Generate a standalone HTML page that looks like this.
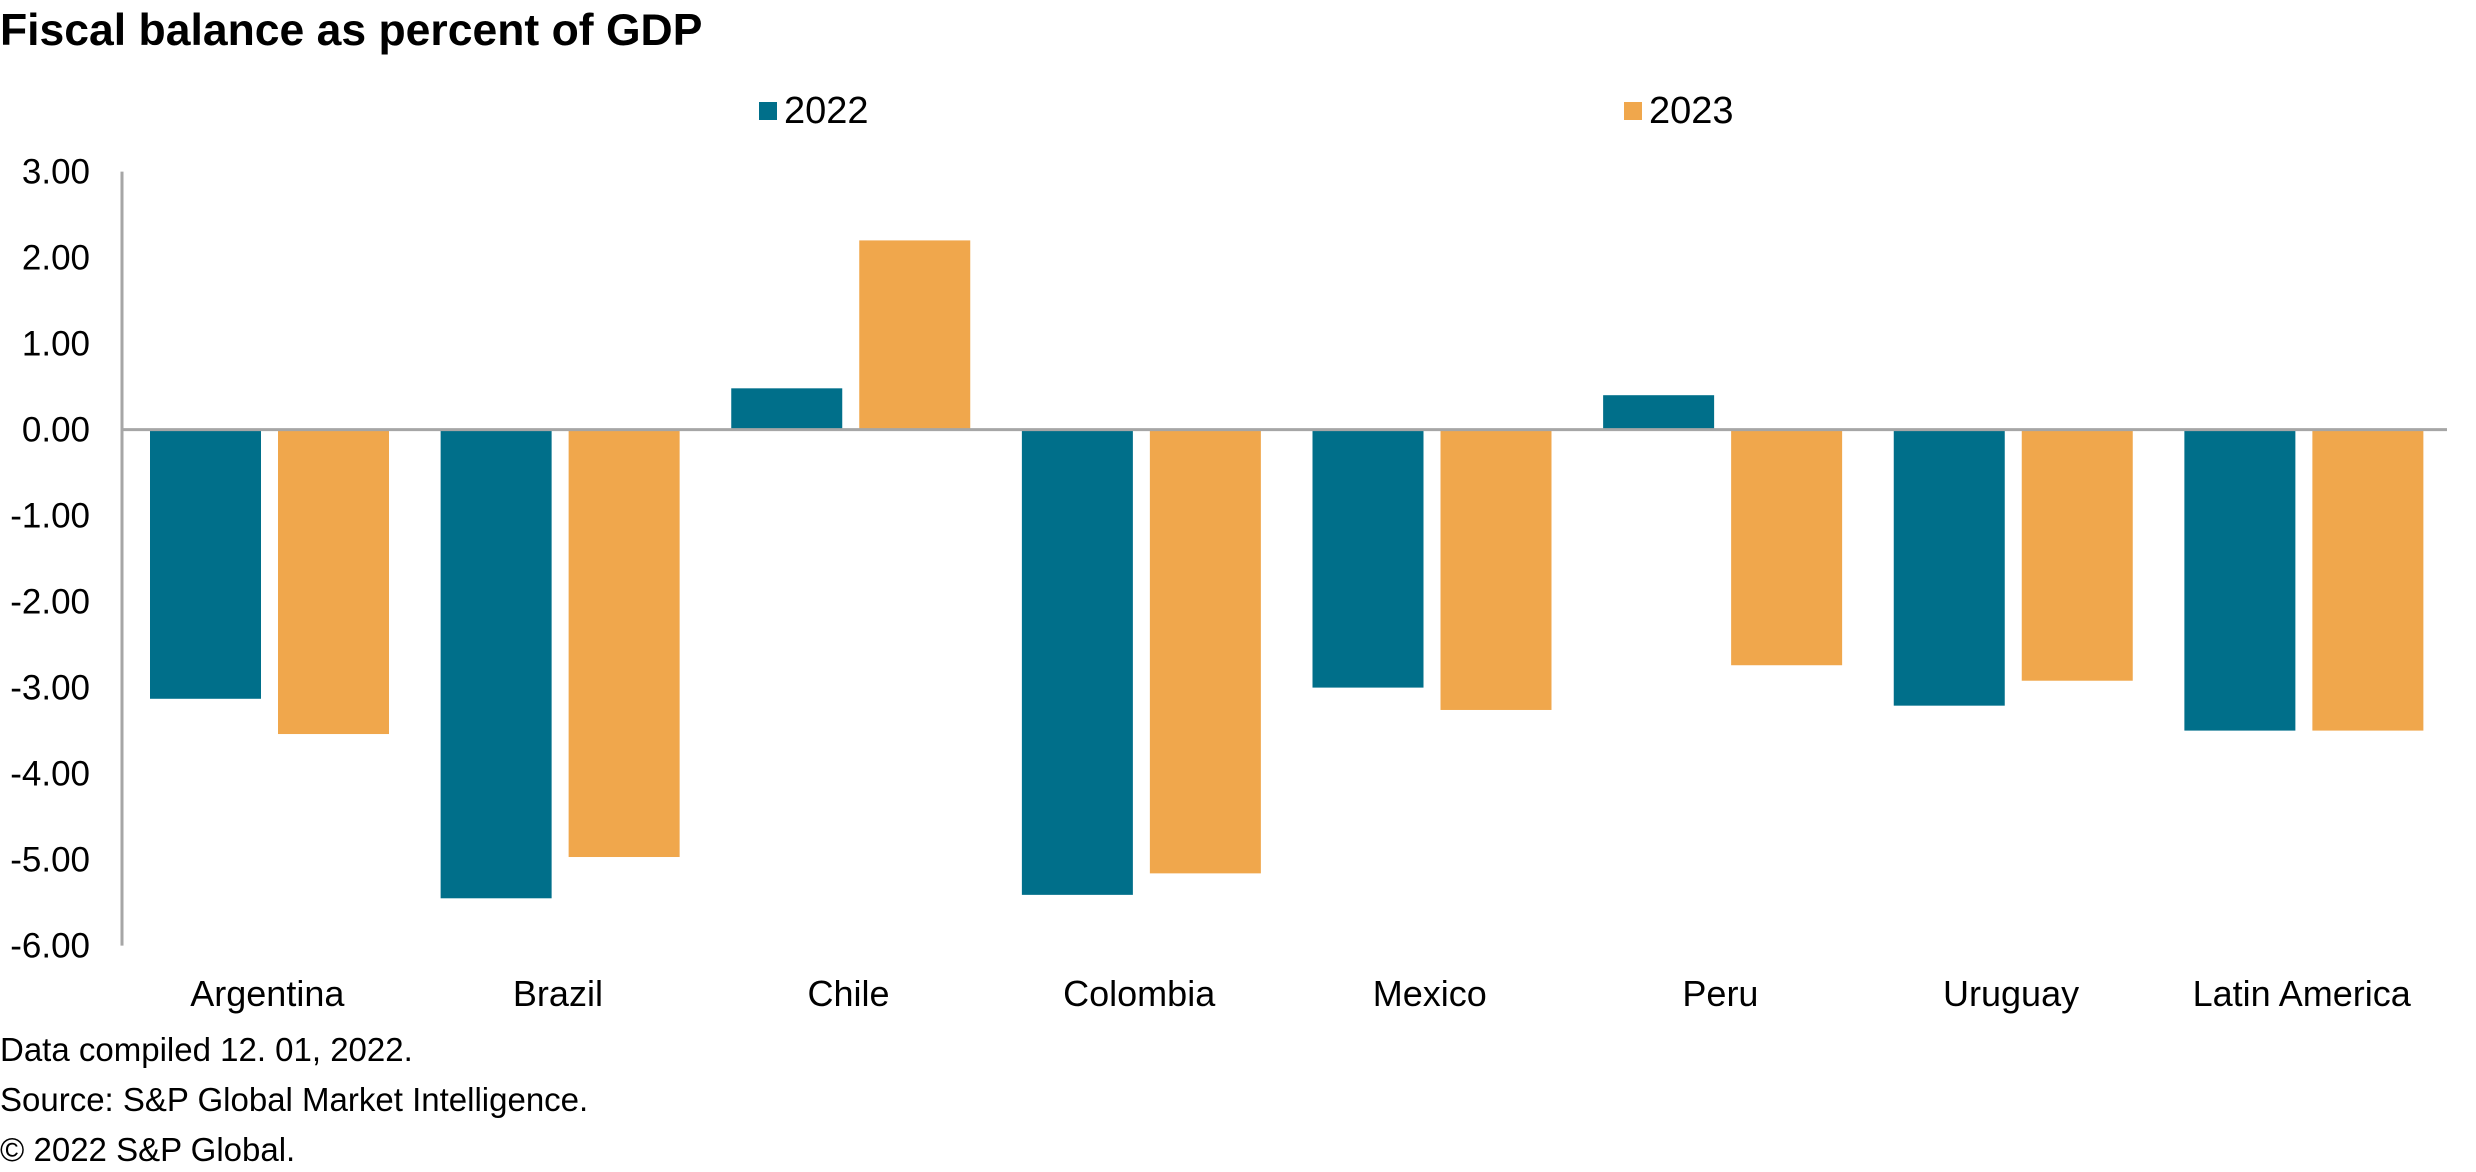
<!DOCTYPE html>
<html><head><meta charset="utf-8"><style>
body{margin:0;background:#fff;width:2476px;height:1167px;overflow:hidden;font-family:"Liberation Sans",Arial,sans-serif;}
svg text{font-family:"Liberation Sans",Arial,sans-serif;fill:#000;}
</style></head><body>
<svg id="chart" width="2476" height="1167">
<text x="0" y="45" font-size="44.5" font-weight="bold">Fiscal balance as percent of GDP</text>
<g>
<rect x="759" y="102" width="18" height="18" fill="#006F8A"/>
<text x="784" y="123" font-size="38">2022</text>
<rect x="1624" y="102" width="18" height="18" fill="#F0A74C"/>
<text x="1649" y="123" font-size="38">2023</text>
</g>
<g id="bars"></g>
<g id="axes"></g>
<g>
<text x="0" y="1061" font-size="33">Data compiled 12. 01, 2022.</text>
<text x="0" y="1111" font-size="33">Source: S&amp;P Global Market Intelligence.</text>
<text x="0" y="1161" font-size="33">© 2022 S&amp;P Global.</text>
</g>
</svg>
<script>
const categories = ["Argentina","Brazil","Chile","Colombia","Mexico","Peru","Uruguay","Latin America"];
const values2022 = [-3.13,-5.45,0.48,-5.41,-3.00,0.40,-3.21,-3.50];
const values2023 = [-3.54,-4.97,2.20,-5.16,-3.26,-2.74,-2.92,-3.50];
const tickValues = [3,2,1,0,-1,-2,-3,-4,-5,-6];
const tickLabels = ["3.00","2.00","1.00","0.00","-1.00","-2.00","-3.00","-4.00","-5.00","-6.00"];

const NS="http://www.w3.org/2000/svg";
const plotL=122, plotR=2447, yTop=171.6, yBot=945.6, vMax=3, vMin=-6;
function y(v){return yTop+(vMax-v)/(vMax-vMin)*(yBot-yTop);}
const bw=(plotR-plotL)/categories.length;
function xCat(i){return plotL+i*bw;}
function mk(tag,attrs,parent){const e=document.createElementNS(NS,tag);for(const k in attrs)e.setAttribute(k,attrs[k]);parent.appendChild(e);return e;}
const bars=document.getElementById('bars'), axes=document.getElementById('axes');
const series=[[values2022,"#006F8A",28,"2022"],[values2023,"#F0A74C",156,"2023"]];
series.forEach(s=>{
  s[0].forEach((v,i)=>{
    const y0=y(0), y1=y(v);
    const r=mk('rect',{x:xCat(i)+s[2],y:Math.min(y0,y1),width:111,height:Math.abs(y1-y0),fill:s[1]},bars);
    
    
  });
});
const ax=mk('line',{x1:plotL,x2:plotL,y1:yTop,y2:yBot,stroke:"#A6A6A6","stroke-width":3},axes);


const zl=mk('line',{x1:plotL,x2:plotR,y1:y(0),y2:y(0),stroke:"#A6A6A6","stroke-width":3},axes);


tickValues.forEach((v,i)=>{
  const t=mk('text',{x:90,y:y(v)+12,"font-size":35,"text-anchor":"end"},axes);
  t.textContent=tickLabels[i];
  
  
});
categories.forEach((c,i)=>{
  const t=mk('text',{x:xCat(i)+bw/2,y:1006,"font-size":36,"text-anchor":"middle"},axes);
  t.textContent=c;
  
  
});
</script>
</body></html>
